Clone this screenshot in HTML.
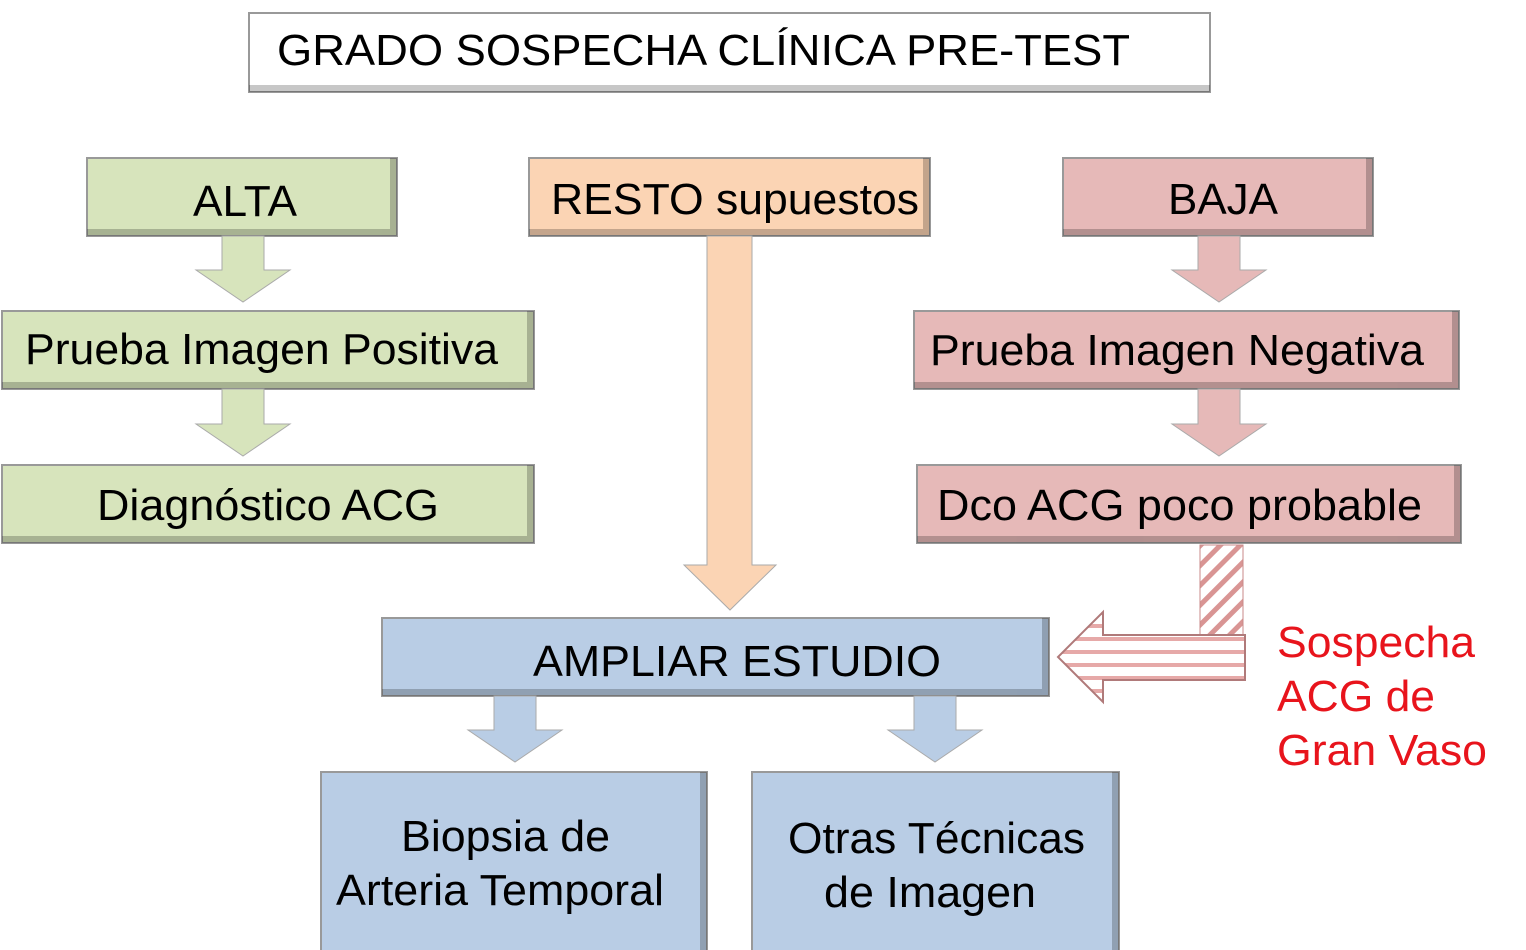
<!DOCTYPE html>
<html><head><meta charset="utf-8"><style>
html,body{margin:0;padding:0;background:#fff;}
svg{display:block;}
text{font-family:"Liberation Sans",Arial,sans-serif;font-size:44px;fill:#000;}
</style></head><body>
<svg width="1526" height="950" viewBox="0 0 1526 950" xmlns="http://www.w3.org/2000/svg">
<defs>
<pattern id="diag" width="14" height="14" patternUnits="userSpaceOnUse" patternTransform="rotate(45)">
<rect width="14" height="14" fill="#fff"/><rect width="5" height="14" fill="#d99594"/></pattern>
<pattern id="horiz" width="10" height="13" patternUnits="userSpaceOnUse">
<rect width="10" height="13" fill="#fff"/><rect y="0" width="10" height="4" fill="#e6a9a8"/></pattern>
</defs>
<g stroke="#999" stroke-width="2">
<rect x="249" y="13" width="961" height="79" fill="#fff"/>
<rect x="87" y="158" width="310" height="78" fill="#d7e4bc"/>
<rect x="529" y="158" width="401" height="78" fill="#fbd4b4"/>
<rect x="1063" y="158" width="310" height="78" fill="#e6b9b8"/>
<rect x="2" y="311" width="532" height="78" fill="#d7e4bc"/>
<rect x="2" y="465" width="532" height="78" fill="#d7e4bc"/>
<rect x="914" y="311" width="545" height="78" fill="#e6b9b8"/>
<rect x="917" y="465" width="544" height="78" fill="#e6b9b8"/>
<rect x="382" y="618" width="667" height="78" fill="#b9cde5"/>
<rect x="321" y="772" width="386" height="180" fill="#b9cde5"/>
<rect x="752" y="772" width="367" height="180" fill="#b9cde5"/>
</g>
<g fill="#000" opacity="0.22">
<rect x="249" y="85" width="961" height="7"/>
<rect x="87" y="229" width="310" height="7"/><rect x="390" y="158" width="7" height="78"/>
<rect x="529" y="229" width="401" height="7"/><rect x="923" y="158" width="7" height="78"/>
<rect x="1063" y="229" width="310" height="7"/><rect x="1366" y="158" width="7" height="78"/>
<rect x="2" y="382" width="532" height="7"/><rect x="527" y="311" width="7" height="78"/>
<rect x="2" y="536" width="532" height="7"/><rect x="527" y="465" width="7" height="78"/>
<rect x="914" y="382" width="545" height="7"/><rect x="1452" y="311" width="7" height="78"/>
<rect x="917" y="536" width="544" height="7"/><rect x="1454" y="465" width="7" height="78"/>
<rect x="382" y="689" width="667" height="7"/><rect x="1042" y="618" width="7" height="78"/>
<rect x="700" y="772" width="7" height="178"/><rect x="1112" y="772" width="7" height="178"/>
</g>
<g stroke="#aaa" stroke-width="1">
<polygon points="222,236 264,236 264,270 290,270 243,302 196,270 222,270" fill="#d7e4bc"/>
<polygon points="222,389 264,389 264,424 290,424 243,456 196,424 222,424" fill="#d7e4bc"/>
<polygon points="1198,236 1240,236 1240,270 1266,270 1219,302 1172,270 1198,270" fill="#e6b9b8"/>
<polygon points="1198,389 1240,389 1240,424 1266,424 1219,456 1172,424 1198,424" fill="#e6b9b8"/>
<polygon points="707,236 752,236 752,565 776,565 730,610 684,565 707,565" fill="#fbd4b4"/>
<polygon points="494,696 536,696 536,730 562,730 515,762 468,730 494,730" fill="#b9cde5"/>
<polygon points="914,696 956,696 956,730 982,730 935,762 888,730 914,730" fill="#b9cde5"/>
<rect x="1200" y="545" width="43" height="92" fill="url(#diag)" stroke="#c98a89"/>
<polygon points="1245,635 1245,680 1103,680 1103,702 1058,657 1103,612 1103,635" fill="url(#horiz)" stroke="#b07a7a" stroke-width="2"/>
</g>
<g>
<text x="277" y="65" textLength="853" lengthAdjust="spacingAndGlyphs">GRADO SOSPECHA CLÍNICA PRE-TEST</text>
<text x="193" y="216" textLength="104" lengthAdjust="spacingAndGlyphs">ALTA</text>
<text x="551" y="214" textLength="368" lengthAdjust="spacingAndGlyphs">RESTO supuestos</text>
<text x="1168" y="214" textLength="110" lengthAdjust="spacingAndGlyphs">BAJA</text>
<text x="25" y="364" textLength="473" lengthAdjust="spacingAndGlyphs">Prueba Imagen Positiva</text>
<text x="97" y="520" textLength="342" lengthAdjust="spacingAndGlyphs">Diagnóstico ACG</text>
<text x="930" y="365" textLength="494" lengthAdjust="spacingAndGlyphs">Prueba Imagen Negativa</text>
<text x="937" y="520" textLength="485" lengthAdjust="spacingAndGlyphs">Dco ACG poco probable</text>
<text x="533" y="676" textLength="408" lengthAdjust="spacingAndGlyphs">AMPLIAR ESTUDIO</text>
<text x="401" y="851" textLength="209" lengthAdjust="spacingAndGlyphs">Biopsia de</text>
<text x="336" y="905" textLength="328" lengthAdjust="spacingAndGlyphs">Arteria Temporal</text>
<text x="788" y="853" textLength="297" lengthAdjust="spacingAndGlyphs">Otras Técnicas</text>
<text x="824" y="907" textLength="212" lengthAdjust="spacingAndGlyphs">de Imagen</text>
<text x="1277" y="657" textLength="198" lengthAdjust="spacingAndGlyphs" style="fill:#e8141c">Sospecha</text>
<text x="1277" y="711" textLength="158" lengthAdjust="spacingAndGlyphs" style="fill:#e8141c">ACG de</text>
<text x="1277" y="765" textLength="210" lengthAdjust="spacingAndGlyphs" style="fill:#e8141c">Gran Vaso</text>
</g>
</svg>
</body></html>
